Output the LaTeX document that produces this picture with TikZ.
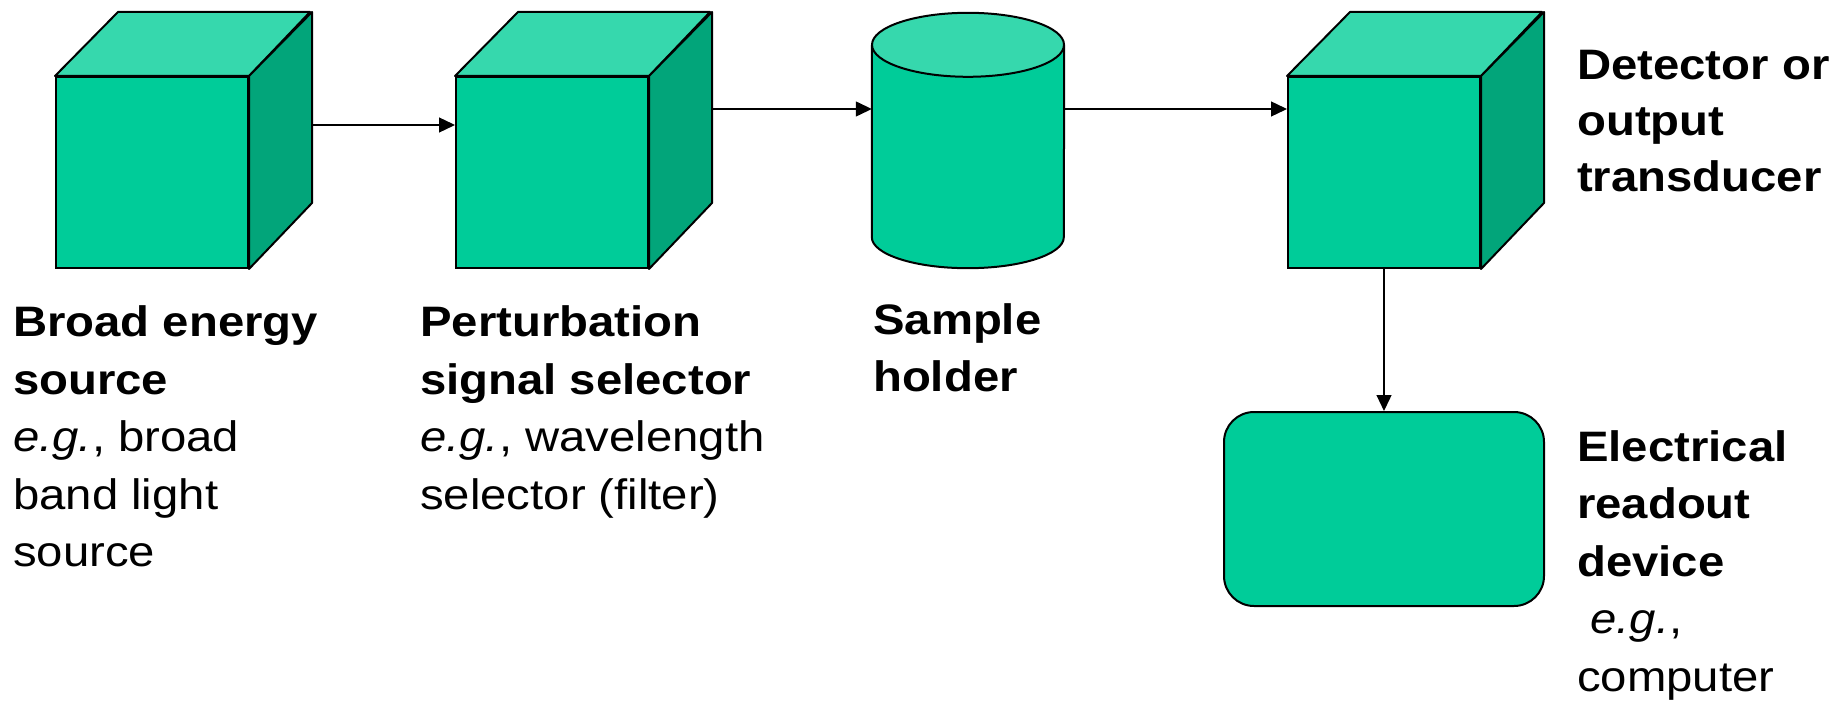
\documentclass[tikz,border=0pt]{standalone}
\usepackage{fontspec}
\setmainfont{Liberation Sans}[FakeStretch=1.11]
\usetikzlibrary{arrows.meta, calc}
\definecolor{boxfront}{HTML}{00CC99}
\definecolor{boxtop}{HTML}{36D8AD}
\definecolor{boxside}{HTML}{02A57A}

\begin{document}
\begin{tikzpicture}[
  x=1pt, y=-1pt,
  cubefront/.style={draw, line width=2pt, fill=boxfront, inner sep=0pt,
                    minimum width=192pt, minimum height=191pt},
  cubeface/.style={draw, line width=2pt, line join=round},
  arr/.style={-{Triangle[length=16pt, width=15pt]}, line width=1.3pt},
  desc/.style={anchor=north west, inner sep=0pt, align=left,
               font=\fontsize{42.6}{57.5}\selectfont}
]
  \useasboundingbox (0,0) rectangle (1835,703);

  % Cubes: front face is the node, top and side hang off its corners
  \foreach \n/\x in {src/152, sel/552, det/1384} {
    \node[cubefront] (\n) at (\x,172.5) {};
    \draw[cubeface, fill=boxtop] (\n.north west) -- ++(63,-64) -- ++(192,0)
      -- (\n.north east) -- cycle;
    \draw[cubeface, fill=boxside] (\n.north east) -- ++(63,-64) -- ++(0,191)
      -- (\n.south east) -- cycle;
  }

  % Sample holder cylinder
  \node[inner sep=0pt, minimum width=192pt, minimum height=192pt] (hold) at (968,141) {};
  \fill[boxfront] (hold.north west) -- (hold.south west)
    arc[start angle=180, end angle=0, x radius=96, y radius=31]
    -- (hold.north east) -- cycle;
  \draw[cubeface] (hold.north west) -- (hold.south west)
    arc[start angle=180, end angle=0, x radius=96, y radius=31]
    -- (hold.north east);
  \draw[cubeface, fill=boxtop] (hold.north) ellipse [x radius=96, y radius=32];

  % Readout box
  \node[draw, line width=2pt, fill=boxfront, rounded corners=30pt,
        minimum width=320pt, minimum height=194pt] (read) at (1384,509) {};

  % Signal path
  \coordinate (src-out) at (311,125);
  \coordinate (sel-out) at (711,109);
  \draw[arr] (src-out) -- (src-out -| sel.west);
  \draw[arr] (sel-out) -- (sel-out -| hold.west);
  \draw[arr] (sel-out -| hold.east) -- (sel-out -| det.west);
  \draw[arr] (det.south) -- (read.north);

  % Labels
  \node[desc] (src-lbl) at (13,305.5)
    {\textbf{Broad energy}\\\textbf{source}\\\textit{e.g.}, broad\\band light\\source};
  \node[desc] (sel-lbl) at (420,305.5)
    {\textbf{Perturbation}\\\textbf{signal selector}\\\textit{e.g.}, wavelength\\selector (filter)};
  \node[desc] (hold-lbl) at (873,303) {\textbf{Sample}\\\textbf{holder}};
  \node[desc, font=\fontsize{42.6}{56}\selectfont] (det-lbl) at (1577,50)
    {\textbf{Detector or}\\\textbf{output}\\\textbf{transducer}};
  \node[desc] (read-lbl) at (1577,430)
    {\textbf{Electrical}\\\textbf{readout}\\\textbf{device}\\\ \textit{e.g.},\\computer};
\end{tikzpicture}
\end{document}
